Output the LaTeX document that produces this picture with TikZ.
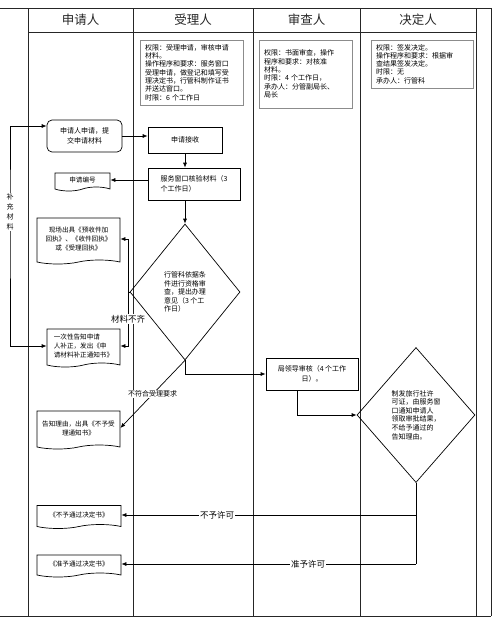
\documentclass[tikz,border=0pt]{standalone}
\usepackage{fontspec}
\setmainfont{Noto Sans CJK SC}
\usepackage{tikz}
\usetikzlibrary{arrows.meta,positioning,shapes.geometric,shapes.symbols}
\tikzset{
  lane/.style={line width=0.8pt, draw=black!85},
  head/.style={font=\fontsize{12.5}{14}\selectfont, text=black!85},
  infobox/.style={draw=black!45, line width=0.6pt, align=left, inner xsep=5pt, inner ysep=3pt, font=\fontsize{7}{8.3}\selectfont},
  process/.style={draw, line width=0.7pt, inner sep=2pt, font=\fontsize{7}{9.5}\selectfont},
  startbox/.style={process, rounded corners=5pt},
  decision/.style={diamond, draw, line width=0.7pt, inner sep=0pt, align=left, font=\fontsize{7}{8.6}\selectfont},
  docbox/.style={tape, tape bend top=none, tape bend height=4pt, draw, line width=0.7pt, inner sep=1pt, font=\fontsize{6.6}{9}\selectfont},
  line/.style={-{Latex[length=5pt,width=4pt]}, line width=0.7pt},
  tag/.style={fill=white, inner sep=1pt, font=\fontsize{8.5}{10}\selectfont},
  vtag/.style={fill=white, inner sep=1pt, align=center, font=\fontsize{7}{10}\selectfont}
}
\begin{document}
\begin{tikzpicture}[x=1pt, y=-1pt]
  \useasboundingbox (0,0) rectangle (500,625);
  % swimlanes
  \draw[lane] (0,8) -- (491,8);
  \draw[lane] (28,32) -- (476,32);
  \draw[lane] (0,616) -- (491,616);
  \foreach \x in {28,133,253,360,476,491} \draw[lane] (\x,8) -- (\x,616);
  \node[head] (h1) at (80.5,20) {申请人};
  \node[head] (h2) at (193,20) {受理人};
  \node[head] (h3) at (306.5,20) {审查人};
  \node[head] (h4) at (418,20) {决定人};

  % duties of each lane
  \node[infobox, text width=93pt, minimum height=65pt] (qa) at (191.5,72.5) {权限：受理申请，审核申请\\材料。\\操作程序和要求：服务窗口\\受理申请，做登记和填写受\\理决定书，行管科制作证书\\并送达窗口。\\时限：6 个工作日};
  \node[infobox, text width=83pt, minimum height=68pt] (qb) at (305.5,74) {权限：书面审查，操作\\程序和要求：对核准\\材料。\\时限：4 个工作日，\\承办人：分管副局长、\\局长};
  \node[infobox, text width=92pt, minimum height=48pt] (qc) at (422,64) {权限：签发决定。\\操作程序和要求：根据审\\查结果签发决定。\\时限：无\\承办人：行管科};

  % flow
  \node[startbox, minimum width=75pt, minimum height=32pt, align=center] (sq) at (84.5,136) {申请人申请，提\\交申请材料};
  \node[process, minimum width=74pt, minimum height=26pt] (js) at (185,140) {申请接收};
  \node[process, minimum width=92pt, minimum height=32pt, align=left] (hy) at (194,184) {服务窗口核验材料（3\\个工作日）};
  \node[docbox, minimum width=55pt, minimum height=18pt] (bh) at (82.5,180) {申请编号};
  \node[decision, minimum width=110pt, minimum height=136pt] (d1) at (185,292) {行管科依据条\\件进行资格审\\查，提出办理\\意见（3 个工\\作日）};
  \node[docbox, minimum width=83pt, minimum height=46pt, align=center] (xc) at (78.5,239) {现场出具《预收件加\\回执》、《收件回执》\\或《受理回执》};
  \node[docbox, minimum width=73pt, minimum height=38pt, align=left] (gz) at (83.5,346) {一次性告知申请\\人补正，发出《申\\请材料补正通知书》};
  \node[docbox, minimum width=83pt, minimum height=38pt, align=center] (gl) at (78.5,428) {告知理由，出具《不予受\\理通知书》};
  \node[process, minimum width=92pt, minimum height=32pt, align=center] (jb) at (312,374) {局领导审核（4 个工作\\日）。};
  \node[decision, minimum width=118pt, minimum height=135pt] (d2) at (416,415) {制发旅行社许\\可证，由服务窗\\口通知申请人\\领取审批结果，\\不给予通过的\\告知理由。};
  \node[docbox, minimum width=84pt, minimum height=23pt] (by) at (79,515) {《不予通过决定书》};
  \node[docbox, minimum width=84pt, minimum height=22pt] (zy) at (79,564) {《准予通过决定书》};

  \draw[line] (sq.east) -- (sq.east -| js.west);
  \draw[line] (js.south) -- (js.south |- hy.north);
  \draw[line] (hy.west |- bh.east) -- (bh.east);
  \draw[line] (hy.south -| d1.north) -- (d1.north);
  \coordinate (bq) at (128,292);
  \draw[line width=0.7pt] (d1.west) -- (bq);
  \draw[line] (bq) |- (xc.east);
  \draw[line] (bq) |- node[tag, pos=0.25]{材料不齐} (gz.east);
  \draw[line] (d1.south) -- node[tag, font=\fontsize{7}{8}\selectfont]{不符合受理要求} (gl.east);
  \draw[line] (d1.south) |- (jb.west);
  \draw[line] ([xshift=-15pt]jb.south) |- (d2.west);
  \draw[line width=0.7pt] (d2.south) -- (d2.south |- zy.east);
  \draw[line] (d2.south |- by.east) -- node[tag, pos=0.675]{不予许可} (by.east);
  \draw[line] (d2.south |- zy.east) -- node[tag, pos=0.366]{准予许可} (zy.east);
  \coordinate (bcl) at (10,212);
  \draw[{Latex[length=5pt,width=4pt]}-{Latex[length=5pt,width=4pt]}, line width=0.7pt] (gz.west) -| (bcl) node[vtag]{补\\充\\材\\料} |- ([yshift=10pt]sq.west);
\end{tikzpicture}
\end{document}
